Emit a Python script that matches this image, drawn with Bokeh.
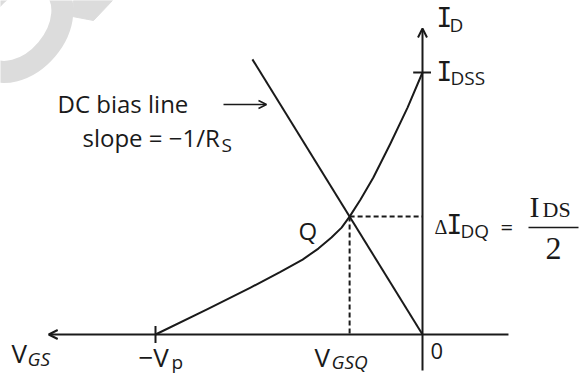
from bokeh.plotting import figure
from bokeh.models import Range1d, Arrow, OpenHead
from bokeh.core.properties import value
from bokeh.embed import file_html
from bokeh.resources import INLINE

# JFET transfer characteristic, normalised: V_GS / V_p and I_D / I_DSS
vgs_norm = [-1.0, -0.805, -0.644, -0.532, -0.449, -0.390, -0.341, -0.303,
            -0.273, -0.232, -0.184, -0.120, -0.056, 0.0]
id_norm = [0.0, 0.097, 0.179, 0.239, 0.286, 0.328, 0.370, 0.408,
           0.450, 0.515, 0.599, 0.729, 0.866, 1.0]

# quiescent point Q (where the bias line meets the curve)
vgs_q = -0.273
id_q = 0.45
# upper end of the drawn self-bias line (in V_GS / V_p)
bias_top_vgs = -0.637

# pixel scale of one normalised unit and the pixel position of the origin
W, H = 587, 374
SX, SY = 267.0, 262.0
OX, OY = 422.0, 334.0


def X(px):
    return (px - OX) / SX


def Y(py):
    return (OY - py) / SY


INK = "#1a1a1a"
SANS = "Open Sans"
SERIF = "Liberation Serif"
MONO = "DejaVu Sans Mono"
# the svg text baseline sits below the requested one, by a share of the size
TEXT_LIFT = 0.41
SUB = 19

p = figure(width=W, height=H, output_backend="svg", toolbar_location=None,
           x_range=Range1d(X(0), X(W)), y_range=Range1d(Y(H), Y(0)),
           x_axis_location=None, y_axis_location=None, min_border=0)
p.grid.visible = False
p.outline_line_color = None
p.background_fill_color = "white"
p.border_fill_color = "white"

# faint watermark in the corner
p.ellipse(x=X(18), y=Y(25), width=104, height=74, angle=0.87,
          width_units="screen", height_units="screen",
          fill_color=None, line_color="#dcdcdc", line_width=22)
p.patch([X(73), X(112), X(93), X(72)], [Y(0), Y(0), Y(20), Y(16)],
        fill_color="#dcdcdc", line_color="#dcdcdc")

# axes: V_GS grows to the left, I_D upwards
head = dict(size=9, line_width=2, line_color=INK)
p.add_layout(Arrow(end=OpenHead(**head), x_start=0.322, y_start=0.0,
                   x_end=-1.40, y_end=0.0, line_width=2, line_color=INK))
p.add_layout(Arrow(end=OpenHead(**head), x_start=0.0, y_start=-0.137,
                   x_end=0.0, y_end=1.168, line_width=2, line_color=INK))

# tick marks at -V_p and I_DSS
tick = 8.5
p.segment(x0=[-1.0], y0=[-tick / SY], x1=[-1.0], y1=[tick / SY],
          line_width=2, line_color=INK)
p.segment(x0=[-tick / SX - 0.003], y0=[1.0], x1=[tick / SX], y1=[1.0],
          line_width=2, line_color=INK)

# transfer curve
p.line(vgs_norm, id_norm, line_width=2, line_color=INK, line_join="round")

# DC bias line through the origin and Q
slope = id_q / vgs_q
p.line([bias_top_vgs, 0.0], [slope * bias_top_vgs, 0.0],
       line_width=2, line_color=INK)

# projections of Q onto both axes
p.line([vgs_q, 0.0], [id_q, id_q], line_width=2, line_color=INK, line_dash="5 3")
p.line([vgs_q, vgs_q], [id_q, 0.0], line_width=2, line_color=INK, line_dash="5 3")

# pointer from the caption to the bias line
p.add_layout(Arrow(end=OpenHead(size=8, line_width=1.5, line_color=INK),
                   x_start=X(223), y_start=Y(104), x_end=X(266), y_end=Y(104),
                   line_width=1.5, line_color=INK))


def label(txt, px, py, size, font=SANS, style="normal", align="left"):
    lift = TEXT_LIFT * size
    p.text(x=[X(px)], y=[Y(py - lift)], text=[txt], text_font=value(font),
           text_font_size=f"{size}px", text_font_style=style,
           text_align=align, text_baseline="alphabetic", text_color=INK)


label("DC bias line", 57, 113, 24)
label("slope = \u22121/R", 82, 147, 24)
label("S", 221, 152, SUB)

label("I", 436, 28, 26, font=MONO)
label("D", 449, 32, SUB)
label("I", 436, 82, 26, font=MONO)
label("DSS", 450, 85, SUB)

label("Q", 298, 240, 24)

label("\u0394", 434, 235, 20, font=SERIF)
label("I", 446, 235, 26, font=MONO)
label("DQ", 460, 238, SUB)
label("=", 500, 235, 22)
label("I", 529, 218, 30, font=SERIF)
label("DS", 542, 218, 22, font=SERIF)
p.segment(x0=[X(528)], y0=[Y(227)], x1=[X(578)], y1=[Y(227)],
          line_width=1.5, line_color=INK)
label("2", 553, 261, 32, font=SERIF, align="center")

label("V", 11, 363, 26)
label("GS", 27, 366, SUB, style="italic")
label("\u2212V", 138, 367, 26)
label("p", 171, 369, SUB)
label("V", 314, 367, 26)
label("GSQ", 331, 369, SUB, style="italic")
label("0", 430, 360, 22)

open("out.html", "w").write(file_html(p, INLINE))
